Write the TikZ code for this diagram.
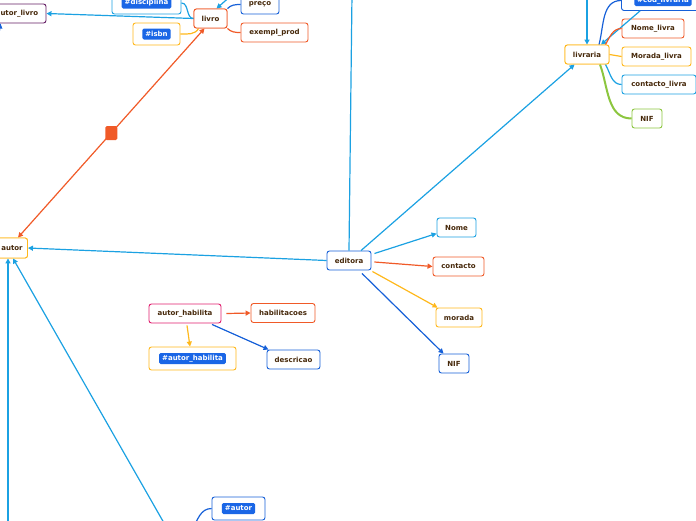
\documentclass[tikz,border=0pt]{standalone}
\usepackage{fontspec}
\newfontfamily\mmfont{DejaVu Sans}
\usetikzlibrary{arrows.meta,calc}
\definecolor{cyanL}{RGB}{27,161,226}
\definecolor{orng}{RGB}{240,90,40}
\definecolor{yel}{RGB}{255,184,28}
\definecolor{blu}{RGB}{22,96,216}
\definecolor{purp}{RGB}{100,30,100}
\definecolor{pinkc}{RGB}{224,30,110}
\definecolor{grn}{RGB}{140,198,63}
\definecolor{txt}{RGB}{70,40,10}
\definecolor{tagb}{RGB}{26,102,230}
\tikzset{
  box/.style={draw, rounded corners=2.5pt, fill=white, line width=0.9pt, font=\mmfont\bfseries\fontsize{7}{8}\selectfont, text=txt, minimum height=19pt, inner sep=0pt},
  tagbox/.style={box, minimum height=22pt},
  tag/.style={fill=tagb, rounded corners=1.5pt, text=white, font=\mmfont\bfseries\fontsize{7}{8}\selectfont, inner xsep=3pt, inner ysep=1.5pt, minimum height=11pt},
  con/.style={line width=1.2pt},
  tip/.style={-{Triangle[length=5pt,width=5pt]}},
  sq/.style={fill=orng, rounded corners=1.5pt, minimum width=12pt, minimum height=14pt, inner sep=0pt}
}
\begin{document}
\begin{tikzpicture}[x=1pt,y=-1pt]
\useasboundingbox (0,0) rectangle (696,520);
\clip (0,0) rectangle (696,520);
% nodes
\node[box, draw=purp, minimum width=58pt] (alivro) at (17,13.5) {autor\_livro};
\node[tagbox, draw=cyanL, minimum width=69pt] (disc) at (146.5,3) {};
\node[tag] (disctag) at (disc) {\#disciplina};
\node[box, draw=orng, minimum width=33pt] (livro) at (210.5,18.5) {livro};
\node[tagbox, draw=yel, minimum width=47pt] (isbn) at (156.5,34) {};
\node[tag] (isbntag) at (isbn) {\#isbn};
\node[box, draw=blu, minimum width=38pt] (preco) at (260,4.5) {preço};
\node[box, draw=orng, minimum width=67pt] (exempl) at (274.5,32.5) {exempl\_prod};
\node[box, draw=yel, minimum width=31pt, minimum height=20pt] (autor) at (12,248) {autor};
\node[box, draw=blu, minimum width=44pt] (editora) at (349,260.5) {editora};
\node[box, draw=cyanL, minimum width=39pt] (nome) at (456.5,227.5) {Nome};
\node[box, draw=orng, minimum width=51pt] (contacto) at (458.5,266.5) {contacto};
\node[box, draw=yel, minimum width=46pt] (morada) at (459,317.5) {morada};
\node[box, draw=blu, minimum width=30pt] (nifed) at (454,363.5) {NIF};
\node[box, draw=yel, minimum width=44pt] (livraria) at (587,54.5) {livraria};
\node[tagbox, draw=blu, minimum width=83pt, minimum height=20pt] (cod) at (663,0.5) {};
\node[tag] (codtag) at (cod) {\#cod\_livraria};
\node[box, draw=orng, minimum width=62pt] (nomelv) at (653,28.5) {Nome\_livra};
\node[box, draw=yel, minimum width=69pt] (moradalv) at (656.5,56.5) {Morada\_livra};
\node[box, draw=cyanL, minimum width=74pt] (contactolv) at (659,84.5) {contacto\_livra};
\node[box, draw=grn, minimum width=30pt] (niflv) at (647,118.5) {NIF};
\node[box, draw=pinkc, minimum width=72pt] (ah) at (185,313.5) {autor\_habilita};
\node[box, draw=orng, minimum width=64pt] (hab) at (283,313) {habilitacoes};
\node[tagbox, draw=yel, minimum width=87pt, minimum height=23pt] (tah) at (192.5,358.5) {};
\node[tag] (tahtag) at (tah) {\#autor\_habilita};
\node[box, draw=blu, minimum width=53pt] (desc) at (293.5,359.5) {descricao};
\node[tagbox, draw=blu, minimum width=53pt, minimum height=23pt] (tautor) at (238.5,508.5) {};
\node[tag] (tautortag) at (tautor) {\#autor};
% free ends
\coordinate (ltop) at (233,-6);
\coordinate (abot) at (8,530);
\coordinate (adiag) at (168,530);
\coordinate (etop) at (352,-6);
\coordinate (lvtop) at (587,-6);
\coordinate (abt) at (192,530);
\coordinate (alb) at (-2,40);
% livro edges
\draw[con, cyanL, tip] (livro.west) -- (alivro.east);
\draw[con, cyanL] (disc.east) to[out=0,in=180] (livro.west);
\draw[con, yel] (isbn.east) to[out=0,in=-120] ([xshift=5pt]livro.south west);
\draw[con, blu] (preco.west) to[out=180,in=45] (livro.north east);
\draw[con, orng] (exempl.west) to[out=180,in=-45] (livro.south east);
\draw[con, cyanL, tip] (ltop) -- ([xshift=6pt]livro.north);
\draw[con, blu, tip] (alb) -- ([xshift=13pt]alivro.south west);
\draw[con, orng, {Triangle[length=5pt,width=5pt]}-{Triangle[length=5pt,width=5pt]}] ([xshift=-6pt]livro.south) -- node[sq, pos=0.5] (mark) {} ([xshift=6pt]autor.north);
% autor edges
\draw[con, cyanL, tip] (editora.west) -- (autor.east);
\draw[con, cyanL, tip] (abot) -- (abot |- autor.south);
\draw[con, cyanL, tip] (adiag) -- ([xshift=1pt]autor.south);
% editora edges
\draw[con, cyanL] (editora.north) -- (etop);
\draw[con, cyanL, tip] ([xshift=12pt]editora.north) -- ([xshift=10pt]livraria.south west);
\draw[con, cyanL, tip] ([shift={(3,-7)}]editora.east) -- ([shift={(0,6)}]nome.west);
\draw[con, orng, tip] ([shift={(3,1.5)}]editora.east) -- (contacto.west);
\draw[con, yel, tip] ([shift={(1,11)}]editora.east) -- ([xshift=2pt]morada.north west);
\draw[con, blu, tip] ([shift={(13,3)}]editora.south) -- ([xshift=5pt]nifed.north west);
% livraria edges
\draw[con, cyanL, tip] (lvtop) -- (livraria.north);
\draw[con, blu] ([xshift=12pt]livraria.north) to[out=75,in=180] (cod.west);
\draw[con, cyanL, tip] ([xshift=-23pt]cod.south) -- ([xshift=14pt]livraria.north);
\draw[con, orng] ([xshift=-4pt]livraria.north east) to[out=60,in=180] (nomelv.west);
\draw[con, yel] (livraria.east) -- (moradalv.west);
\draw[con, cyanL] ([xshift=-4pt]livraria.south east) to[out=-60,in=180] (contactolv.west);
\draw[line width=2pt, grn] ([xshift=13pt]livraria.south) to[out=-70,in=180] (niflv.west);
% autor_habilita edges
\draw[con, orng, tip] ([xshift=5pt]ah.east) -- (hab.west);
\draw[con, yel, tip] ([shift={(2,2)}]ah.south) -- ([xshift=-2.5pt]tah.north);
\draw[con, blu, tip] ([shift={(27,1)}]ah.south) -- ([xshift=2pt]desc.north west);
% #autor edge
\draw[con, blu] (tautor.west) to[out=180,in=60] (abt);
% redraw nodes above lines
\node[box, draw=orng, minimum width=33pt] at (livro) {livro};
\node[box, draw=yel, minimum width=44pt] at (livraria) {livraria};
\node[box, draw=yel, minimum width=31pt, minimum height=20pt] at (autor) {autor};
\end{tikzpicture}
\end{document}
